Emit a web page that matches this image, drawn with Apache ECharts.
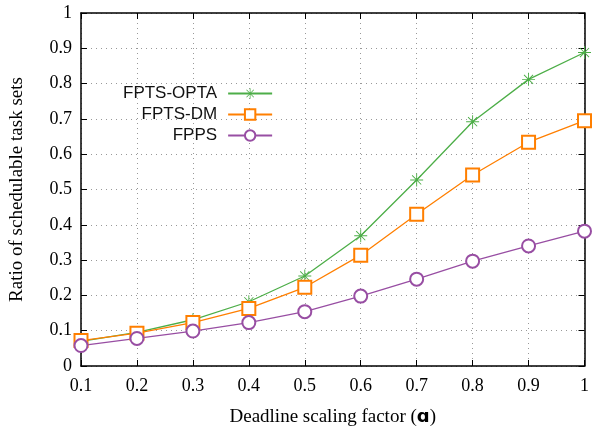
<!DOCTYPE html>
<html><head><meta charset="utf-8">
<script src="https://cdn.jsdelivr.net/npm/echarts@6/dist/echarts.min.js"></script>
<style>html,body{margin:0;padding:0;background:#fff}#c{width:592px;height:432px}</style>
</head><body><div id="c"></div>
<script>
const xValues = [0.1,0.2,0.3,0.4,0.5,0.6,0.7,0.8,0.9,1.0];
const seriesNames = ['FPTS-OPTA','FPTS-DM','FPPS'];
const optaValues = [0.070,0.095,0.131,0.182,0.255,0.369,0.527,0.692,0.812,0.888];
const dmValues   = [0.072,0.093,0.123,0.163,0.223,0.314,0.430,0.541,0.634,0.695];
const fppsValues = [0.058,0.078,0.099,0.123,0.154,0.198,0.246,0.297,0.340,0.382];
const xTickLabels = ['0.1','0.2','0.3','0.4','0.5','0.6','0.7','0.8','0.9','1'];
const yTickLabels = ['0','0.1','0.2','0.3','0.4','0.5','0.6','0.7','0.8','0.9','1'];

const colors = ['#4dae48','#ff7f00','#984ea3'];
const starPath = 'path://M9.3,0H10.7V20H9.3Z M0,9.3H20V10.7H0Z M2.5,3.5L3.5,2.5L17.5,16.5L16.5,17.5Z M16.5,2.5L17.5,3.5L3.5,17.5L2.5,16.5Z';
const pairs = v => xValues.map((x,i)=>[x,v[i]]);
const serif = 'Liberation Serif';

const chart = echarts.init(document.getElementById('c'), null, {renderer:'canvas'});
const axisCommon = {
  min: 0, max: 1, interval: 0.1,
  axisLine:{show:true, onZero:false, lineStyle:{color:'#000', width:1.5}},
  axisTick:{show:true, inside:true, length:6, lineStyle:{color:'#000'}},
};
chart.setOption({
  animation:false,
  backgroundColor:'#fff',
  grid:{left:79, right:5, top:13, bottom:66},
  legend:{
    orient:'vertical', left:118, top:78, align:'right', itemGap:0,
    itemWidth:44, itemHeight:13,
    textStyle:{fontFamily:'Liberation Sans', fontSize:17, color:'#111', lineHeight:21, padding:[0,6,0,0]},
    data: seriesNames
  },
  xAxis:[{
    ...axisCommon, type:'value', min:0.1, max:1, position:'bottom',
    axisLabel:{fontFamily:serif, fontSize:18, color:'#000', margin:11,
      formatter:v=>{const i=Math.round(v*10)-1; return xTickLabels[i]!==undefined?xTickLabels[i]:'';}},
    splitLine:{show:true, lineStyle:{color:'#999', type:[1,4], width:1}},
    name:'{t|Deadline scaling factor (}{a|ɑ}{t|)}', nameLocation:'middle', nameGap:42,
    nameTextStyle:{rich:{t:{fontFamily:serif, fontSize:19, color:'#000'}, a:{fontFamily:'DejaVu Sans', fontSize:18, fontWeight:'bold', color:'#000'}}}
  },{
    ...axisCommon, type:'value', min:0.1, max:1, position:'top',
    axisLabel:{show:false}, splitLine:{show:false}
  }],
  yAxis:[{
    ...axisCommon, type:'value', position:'left',
    axisLabel:{fontFamily:serif, fontSize:18, color:'#000', margin:9,
      formatter:v=>{const i=Math.round(v*10); return yTickLabels[i]!==undefined?yTickLabels[i]:'';}},
    splitLine:{show:true, lineStyle:{color:'#999', type:[1,4], width:1}},
    name:'Ratio of schedulable task sets', nameLocation:'middle', nameGap:54,
    nameTextStyle:{fontFamily:serif, fontSize:19, color:'#000'}
  },{
    ...axisCommon, type:'value', position:'right',
    axisLabel:{show:false}, splitLine:{show:false}
  }],
  series:[
    {name:seriesNames[0], type:'line', data:pairs(optaValues), color:colors[0],
     symbol:starPath, symbolSize:13, lineStyle:{width:1.3, color:colors[0]},
     itemStyle:{color:colors[0], borderWidth:0}},
    {name:seriesNames[1], type:'line', data:pairs(dmValues), color:colors[1],
     symbol:'emptyRect', symbolSize:13, lineStyle:{width:1.3, color:colors[1]},
     itemStyle:{color:colors[1], borderColor:colors[1], borderWidth:1.6}},
    {name:seriesNames[2], type:'line', data:pairs(fppsValues), color:colors[2],
     symbol:'emptyCircle', symbolSize:13, lineStyle:{width:1.3, color:colors[2]},
     itemStyle:{color:colors[2], borderColor:colors[2], borderWidth:1.3}}
  ]
});
</script></body></html>
